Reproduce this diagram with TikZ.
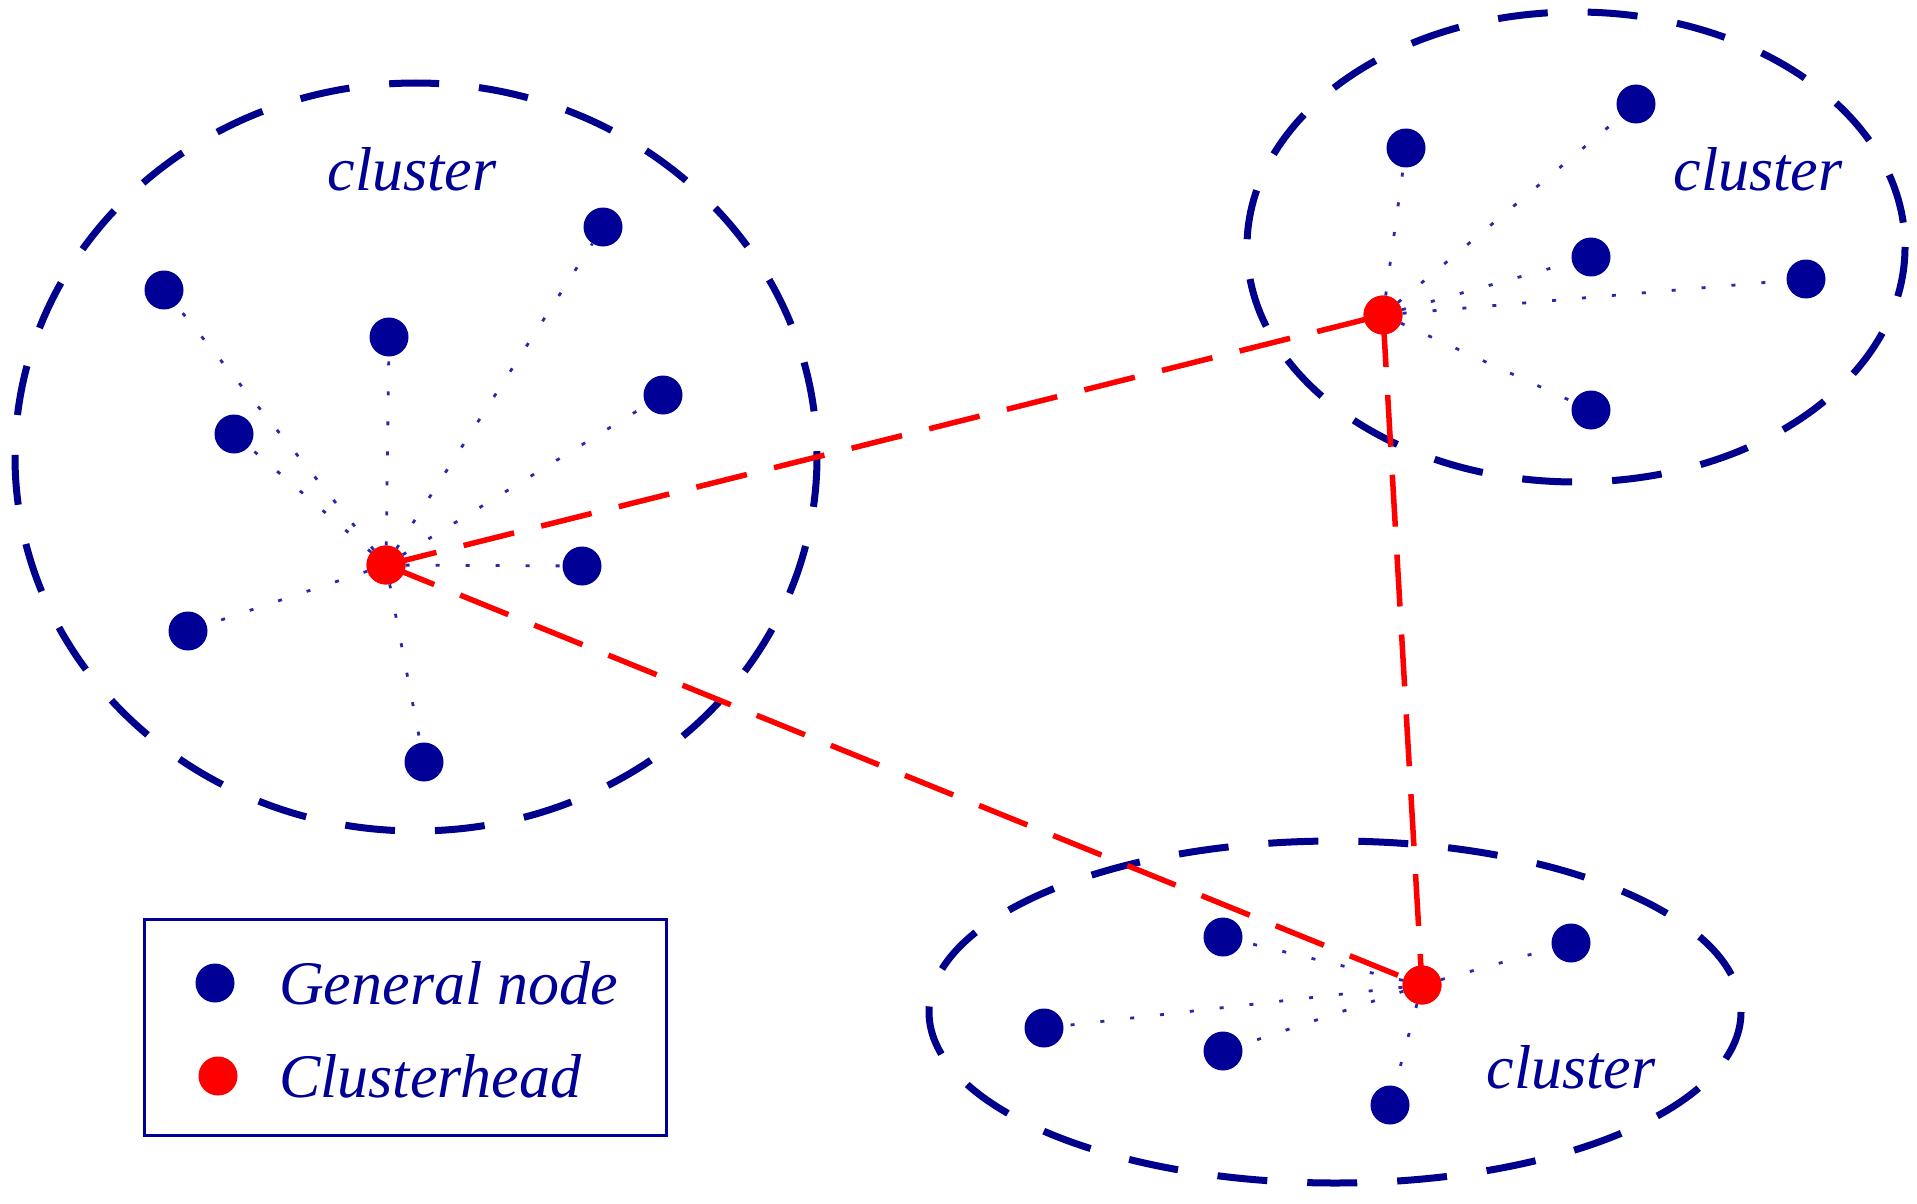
\documentclass[tikz,border=0pt]{standalone}
\usepackage{fontspec}
\setmainfont{Liberation Serif}
\begin{document}
\begin{tikzpicture}[x=1pt,y=-1pt,
  gnode/.style={circle,fill={rgb,255:red,0;green,0;blue,150},inner sep=0pt,minimum size=39pt},
  chnode/.style={circle,fill=red,inner sep=0pt,minimum size=39pt},
  clusterline/.style={draw={rgb,255:red,0;green,0;blue,140},line width=7pt,dash pattern=on 50pt off 40pt},
  link/.style={draw=red,line width=5.5pt,dash pattern=on 52pt off 28pt},
  member/.style={draw={rgb,255:red,40;green,40;blue,170},line width=2.8pt,dash pattern=on 4pt off 26pt},
  lbl/.style={text={rgb,255:red,0;green,0;blue,150},font=\fontsize{62}{70}\selectfont\itshape,inner sep=0pt}
]
\useasboundingbox (0,0) rectangle (1917,1204);
% clusters
\draw[clusterline] (416,457) ellipse [x radius=401, y radius=374];
\draw[clusterline] (1576,247) ellipse [x radius=329, y radius=235];
\draw[clusterline] (1335,1012) ellipse [x radius=406, y radius=171];
% labels
\node[lbl] (tL) at (412,169) {cluster};
\node[lbl] (tU) at (1758,169) {cluster};
\node[lbl] (tB) at (1571,1067) {cluster};
% left cluster nodes
\node[chnode] (hL) at (386,565) {};
\node[gnode] (a1) at (164,290) {};
\node[gnode] (a2) at (389,337) {};
\node[gnode] (a3) at (603,227) {};
\node[gnode] (a4) at (234,434) {};
\node[gnode] (a5) at (663,395) {};
\node[gnode] (a6) at (582,566) {};
\node[gnode] (a7) at (188,631) {};
\node[gnode] (a8) at (424,762) {};
% upper right
\node[chnode] (hU) at (1383,315) {};
\node[gnode] (b1) at (1406,148) {};
\node[gnode] (b2) at (1636,104) {};
\node[gnode] (b3) at (1591,257) {};
\node[gnode] (b4) at (1806,279) {};
\node[gnode] (b5) at (1591,410) {};
% bottom
\node[chnode] (hB) at (1422,985) {};
\node[gnode] (c1) at (1223,937) {};
\node[gnode] (c2) at (1571,943) {};
\node[gnode] (c3) at (1044,1028) {};
\node[gnode] (c4) at (1223,1051) {};
\node[gnode] (c5) at (1390,1105) {};
% member links
\foreach \n in {a1,a2,a3,a4,a5,a6,a7,a8} \draw[member] (hL) -- (\n);
\foreach \n in {b1,b2,b3,b4,b5} \draw[member] (hU) -- (\n);
\foreach \n in {c1,c2,c3,c4,c5} \draw[member] (hB) -- (\n);
% head links
\draw[link] (hL.center) -- (hU.center);
\draw[link] (hL.center) -- (hB.center);
\draw[link] (hU.center) -- (hB.center);
% redraw heads on top
\node[chnode] at (hL) {};
\node[chnode] at (hU) {};
\node[chnode] at (hB) {};
% legend
\node[draw={rgb,255:red,0;green,0;blue,150},line width=3pt,minimum width=522pt,minimum height=216pt,inner sep=0pt] (leg) at (405,1027) {};
\node[gnode] (lg1) at (215,983) {};
\node[chnode] (lg2) at (218,1076) {};
\node[lbl,anchor=west] (lt1) at (279,983) {General node};
\node[lbl,anchor=west] (lt2) at (279,1076) {Clusterhead};
\end{tikzpicture}
\end{document}
